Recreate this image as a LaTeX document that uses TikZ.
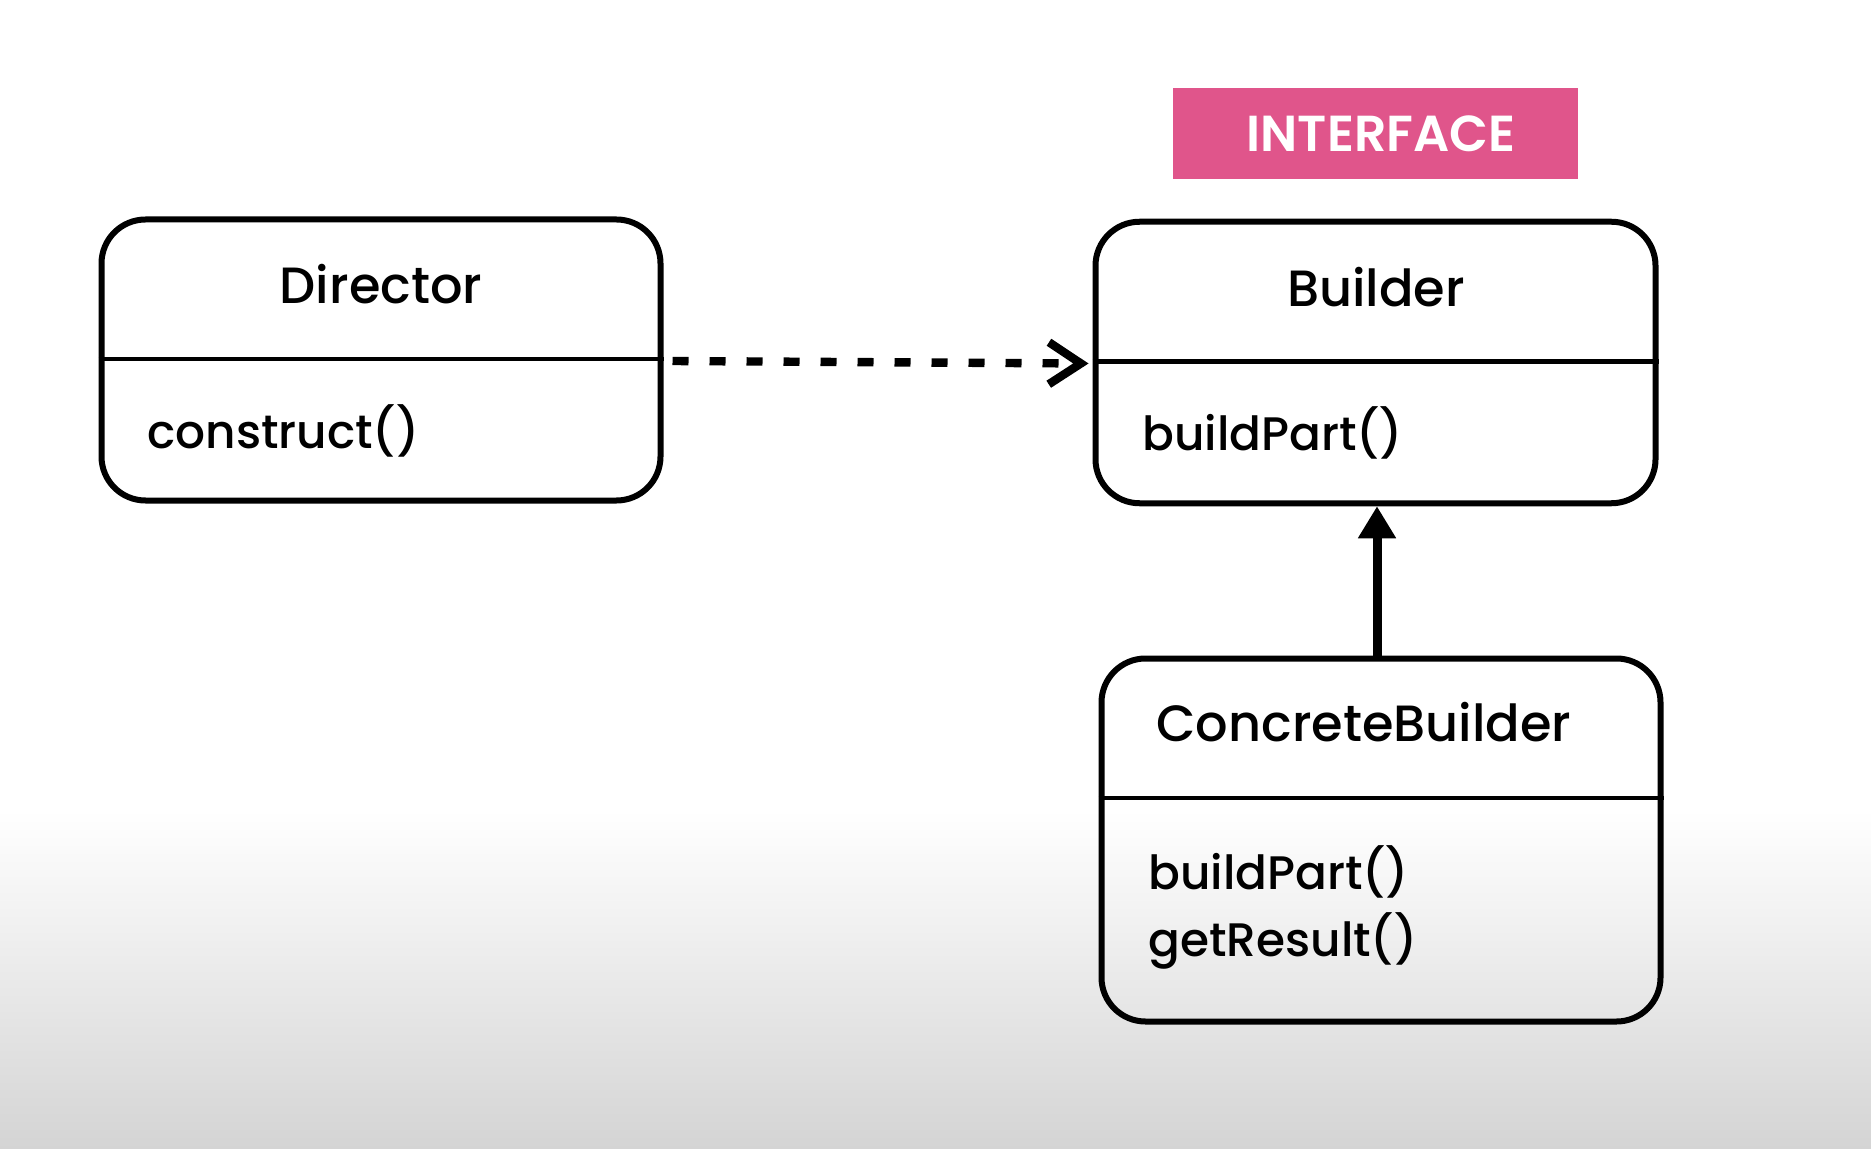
\documentclass[tikz,border=0pt]{standalone}
\usepackage{fontspec}
\setmainfont{Poppins}
\newfontfamily\titlefont{Poppins Medium}
\newfontfamily\memberfont{Poppins Medium}
\newfontfamily\tagfont{Poppins SemiBold}
\usetikzlibrary{arrows.meta}
\definecolor{ifpink}{HTML}{E0558B}
\definecolor{bggray}{HTML}{D4D4D4}
\tikzset{
  umlbox/.style={draw=black, line width=3pt, rounded corners=22pt, inner sep=0pt},
  divider/.style={line width=2.4pt},
  titletext/.style={anchor=base, inner sep=0pt, font=\titlefont\fontsize{25.5}{30}\selectfont},
  membertext/.style={anchor=base west, inner sep=0pt, font=\memberfont\fontsize{23.5}{30}\selectfont},
  iftag/.style={fill=ifpink, inner sep=0pt},
  iftext/.style={text=white, inner sep=0pt, font=\tagfont\fontsize{25.3}{30}\selectfont},
  uses/.style={line width=4.2pt, dash pattern=on 8pt off 10.5pt, -{Straight Barb[length=16pt,width=21pt,line width=4.2pt]}},
  inherits/.style={line width=4.5pt, -{Triangle[length=16pt,width=18pt]}}
}
\begin{document}
\begin{tikzpicture}[x=0.5pt,y=-0.5pt]
\useasboundingbox (0,0) rectangle (1871,1149);
\fill[white] (0,0) rectangle (1871,1149);
\shade[top color=white, bottom color=bggray] (0,810) rectangle (1871,1149);

% interface tag
\node[iftag, minimum width=202.5pt, minimum height=45.5pt] (tag) at (1375.5,133.5) {};
\node[iftext] (tagtext) at (1381,133.5) {INTERFACE};

% boxes
\node[umlbox, minimum width=279.5pt, minimum height=140.5pt] (director) at (381,360) {};
\node[umlbox, minimum width=280pt, minimum height=140.75pt] (builder) at (1375.5,362.5) {};
\node[umlbox, minimum width=279.5pt, minimum height=181.5pt] (concrete) at (1381,840) {};

% dividers
\coordinate (dL) at (director.west |- 0,359);
\coordinate (dR) at (director.east |- 0,359);
\coordinate (bL) at (builder.west |- 0,361.5);
\coordinate (bR) at (builder.east |- 0,361.5);
\coordinate (cL) at (concrete.west |- 0,798);
\coordinate (cR) at (concrete.east |- 0,798);
\draw[divider] (dL) -- (dR);
\draw[divider] (bL) -- (bR);
\draw[divider] (cL) -- (cR);

% titles
\node[titletext] (dtitle) at (381,304) {Director};
\node[titletext] (btitle) at (1376,307) {Builder};
\node[titletext] (ctitle) at (1364,741) {ConcreteBuilder};

% members
\node[membertext] (dm1) at (147,448) {construct()};
\node[membertext] (bm1) at (1142,451) {buildPart()};
\node[membertext] (cm1) at (1148,889) {buildPart()};
\node[membertext] (cm2) at (1148,956) {getResult()};

% connectors
\coordinate (dstart) at ([xshift=4.5pt,yshift=-1pt]dR);
\draw[uses] (dstart) -- ([xshift=-2pt,yshift=-1pt]bL);
\draw[inherits] (concrete.north -| 1377,0) -- (builder.south -| 1377,0);
\end{tikzpicture}
\end{document}
